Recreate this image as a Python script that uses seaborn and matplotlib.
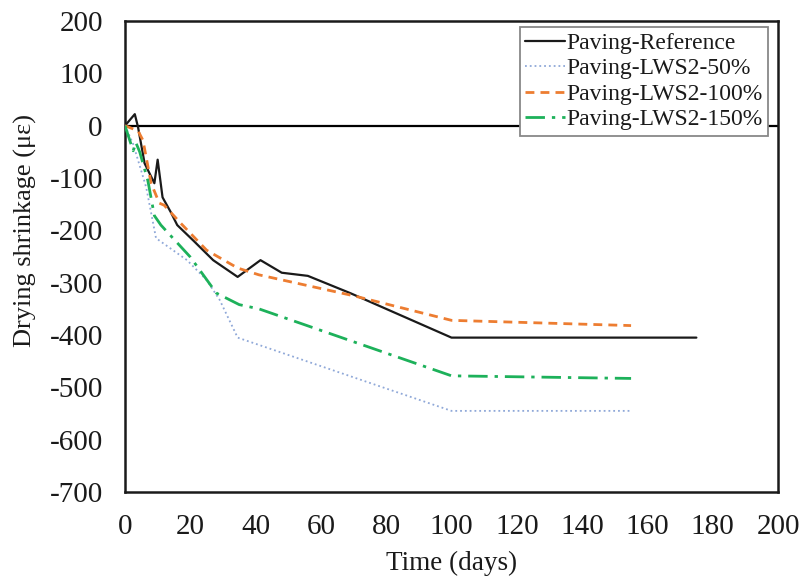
import matplotlib
matplotlib.use("Agg")
import matplotlib.pyplot as plt
import seaborn as sns
import pandas as pd

# Drying shrinkage measurements (microstrain) against age in days
ref_days = [0, 3, 4, 6, 9, 10, 11.5, 14, 16, 21, 27, 34.5, 41.5, 48, 56, 69, 100, 175]
ref_vals = [0, 22, -3, -72, -110, -65, -137, -165, -190, -220, -257, -289, -257, -281, -287, -320, -405, -405]

lws50_days = [0, 2.5, 6.5, 9.5, 19, 25, 29, 34.5, 100, 155]
lws50_vals = [0, -35, -118, -215, -257, -295, -333, -405, -545, -545]

lws100_days = [0, 4, 5.5, 8, 10.5, 12, 17, 25, 34.5, 41, 70, 100, 155]
lws100_vals = [0, -10, -28, -110, -148, -152, -186, -238, -272, -285, -325, -372, -382]

lws150_days = [0, 2.5, 3.3, 4.5, 7, 9, 11, 20, 28, 35, 41, 100, 155]
lws150_vals = [0, -48, -32, -50, -105, -172, -190, -251, -320, -342, -350, -478, -483]

series_names = ["Paving-Reference", "Paving-LWS2-50%", "Paving-LWS2-100%", "Paving-LWS2-150%"]
series_colors = ["#1a1a1a", "#8fa8d8", "#ed7d31", "#1db15a"]
series_styles = ["-", ":", (0, (3.2, 2.2)), (0, (7, 2.5, 1.2, 2.5))]
series_widths = [1.6, 1.3, 2.0, 2.0]

x_ticks = list(range(0, 201, 20))
y_ticks = list(range(-700, 201, 100))

frames = []
for name, d, v in zip(series_names,
                      [ref_days, lws50_days, lws100_days, lws150_days],
                      [ref_vals, lws50_vals, lws100_vals, lws150_vals]):
    frames.append(pd.DataFrame({"Time": d, "Shrinkage": v, "Mix": name}))
df = pd.concat(frames, ignore_index=True)

sns.set_theme(style="white")
plt.rcParams["font.family"] = ["Liberation Serif", "DejaVu Serif"]
plt.rcParams["axes.unicode_minus"] = False

fig = plt.figure(figsize=(8.01, 5.81), dpi=100)
ax = fig.add_axes([125 / 801, 1 - 492 / 581, (778 - 125) / 801, (492 - 21) / 581])

# zero reference line (horizontal axis crossing at 0)
ax.axhline(0, color="black", lw=1.6, zorder=1)

for name, col, ls, lw in zip(series_names, series_colors, series_styles, series_widths):
    sub = df[df["Mix"] == name]
    sns.lineplot(data=sub, x="Time", y="Shrinkage", ax=ax, color=col,
                 linestyle=ls, linewidth=lw, label=name, sort=False,
                 estimator=None, zorder=3)

ax.set_xlim(0, 200)
ax.set_ylim(-700, 200)
ax.set_xticks(x_ticks)
ax.set_yticks(y_ticks)
ax.tick_params(axis="both", length=0, labelsize=21, colors="#1a1a1a")
ax.tick_params(axis="y", pad=16)
ax.tick_params(axis="x", pad=16)
ax.set_xlabel("Time (days)", fontsize=19.5, color="#1a1a1a", labelpad=8)
ax.set_ylabel("Drying shrinkage (με)", fontsize=19, color="#1a1a1a")
ax.yaxis.set_label_coords(-0.135, 0.556)

for sp in ax.spines.values():
    sp.set_visible(True)
    sp.set_color("#1a1a1a")
    sp.set_linewidth(1.8)

leg = ax.legend(loc="upper right", bbox_to_anchor=(0.985, 0.987), fontsize=17,
                frameon=True, fancybox=False, handlelength=1.7,
                handletextpad=0.08, labelspacing=0.17, borderpad=0.22,
                borderaxespad=0.0)
leg.get_frame().set_edgecolor("#888888")
leg.get_frame().set_linewidth(1.3)
leg.get_frame().set_alpha(1.0)
for t in leg.get_texts():
    t.set_color("#1a1a1a")

fig.savefig("out.png", dpi=100, facecolor="white")
